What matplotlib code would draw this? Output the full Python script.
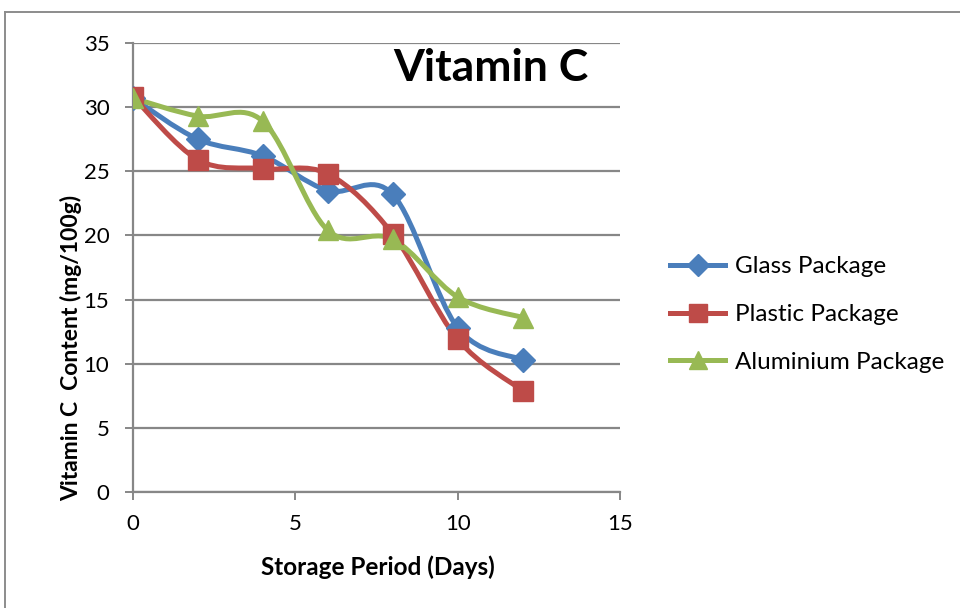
import numpy as np
import matplotlib
matplotlib.use("Agg")
import matplotlib.pyplot as plt
from matplotlib.path import Path
from matplotlib.patches import PathPatch
from matplotlib.lines import Line2D

# Vitamin C content (mg/100g) over storage days
days = [0, 2, 4, 6, 8, 10, 12]
glass = [30.7, 27.5, 26.2, 23.5, 23.2, 12.8, 10.3]
plastic = [30.8, 25.9, 25.2, 24.8, 20.1, 11.9, 7.9]
aluminium = [30.7, 29.3, 28.9, 20.4, 19.7, 15.2, 13.6]

series_names = ["Glass Package", "Plastic Package", "Aluminium Package"]
series_colors = ["#4A7EBB", "#BE4B48", "#98B954"]
series_markers = ["D", "s", "^"]
marker_sizes = [12, 14, 15]

x_ticks = [0, 5, 10, 15]
y_ticks = [0, 5, 10, 15, 20, 25, 30, 35]

plt.rcParams["font.family"] = ["Lato", "DejaVu Sans"]

fig = plt.figure(figsize=(9.6, 6.08), dpi=100)
W, H = 960, 608
ax = fig.add_axes([133 / W, 1 - 492 / H, (620 - 133) / W, (492 - 43) / H])


def smooth_path(xs, ys):
    """Catmull-Rom style cubic Bezier through the points (smoothed line)."""
    pts = np.column_stack([xs, ys]).astype(float)
    n = len(pts)
    verts = [pts[0]]
    codes = [Path.MOVETO]
    for i in range(n - 1):
        p0 = pts[i - 1] if i > 0 else pts[i]
        p1 = pts[i]
        p2 = pts[i + 1]
        p3 = pts[i + 2] if i + 2 < n else pts[i + 1]
        c1 = p1 + (p2 - p0) / 6.0
        c2 = p2 - (p3 - p1) / 6.0
        verts += [c1, c2, p2]
        codes += [Path.CURVE4] * 3
    return Path(verts, codes)


for vals, name, col, mk, ms in zip([glass, plastic, aluminium], series_names,
                                   series_colors, series_markers, marker_sizes):
    patch = PathPatch(smooth_path(days, vals), facecolor="none", edgecolor=col,
                      lw=3.6, capstyle="round", joinstyle="round", zorder=3)
    ax.add_patch(patch)
    ax.plot(days, vals, linestyle="none", marker=mk, markersize=ms,
            markerfacecolor=col, markeredgecolor=col, zorder=4)

ax.set_xlim(0, 15)
ax.set_ylim(0, 35)
ax.set_xticks(x_ticks)
ax.set_yticks(y_ticks)
ax.set_xticklabels([str(t) for t in x_ticks])
ax.set_yticklabels([str(t) for t in y_ticks])

grid_col = "#878787"
ax.grid(axis="y", color=grid_col, lw=1.6, zorder=0)
ax.set_axisbelow(True)
for side in ["top", "right"]:
    ax.spines[side].set_visible(False)
for side in ["left", "bottom"]:
    ax.spines[side].set_color(grid_col)
    ax.spines[side].set_linewidth(1.6)
ax.tick_params(axis="both", direction="out", length=6, width=1.4, color=grid_col,
               labelsize=16, pad=11)
ax.tick_params(axis="x", pad=10)

ax.set_xlabel("Storage Period (Days)", fontsize=17.5, fontweight="bold")
ax.xaxis.set_label_coords(0.503, -0.142)
ax.set_ylabel("Vitamin C  Content (mg/100g)", fontsize=16.5, fontweight="bold")
ax.yaxis.set_label_coords(-0.104, 0.32)

fig.text(491 / W, 1 - 68 / H, "Vitamin C", fontsize=32, fontweight="bold",
         ha="center", va="center")

handles = [Line2D([0], [0], color=c, lw=3.6, marker=m, markersize=s * 0.9,
                  markerfacecolor=c, markeredgecolor=c)
           for c, m, s in zip(series_colors, series_markers, marker_sizes)]
fig.legend(handles, series_names, loc="upper left",
           bbox_to_anchor=(663 / W, 1 - 249 / H), frameon=False, fontsize=17.5,
           handlelength=2.25, handletextpad=0.4, labelspacing=1.1,
           borderaxespad=0, borderpad=0.3)

# Outer chart frame
fig.add_artist(Line2D([5 / W, 5 / W], [0, 1 - 12 / H], transform=fig.transFigure,
                      color="#8c8c8c", lw=1.4))
fig.add_artist(Line2D([5 / W, 1], [1 - 12 / H, 1 - 12 / H], transform=fig.transFigure,
                      color="#8c8c8c", lw=1.4))

fig.savefig("out.png", dpi=100)
